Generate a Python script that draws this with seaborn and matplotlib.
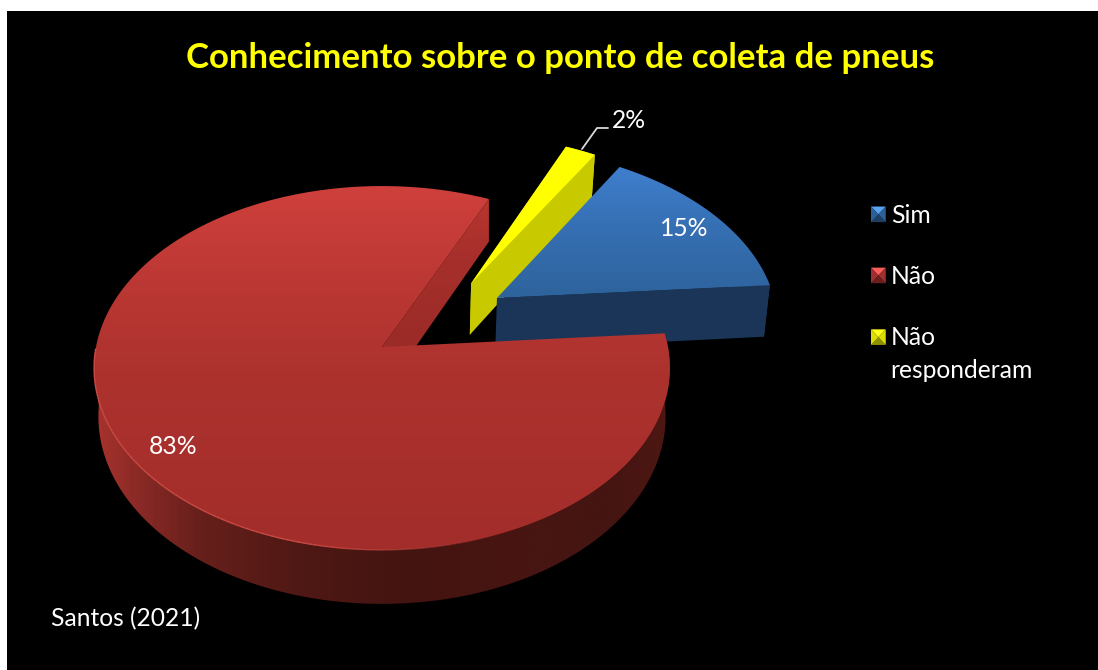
import numpy as np
import seaborn as sns
import matplotlib
matplotlib.use("Agg")
import matplotlib.pyplot as plt
from matplotlib.collections import LineCollection
from matplotlib.legend_handler import HandlerBase
from matplotlib.patches import Polygon, Patch

# ---- data ----
categories = ["Sim", "Não", "Não\nresponderam"]
shares = [15, 83, 2]
title_text = "Conhecimento sobre o ponto de coleta de pneus"
source_text = "Santos (2021)"

# ---- style ----
sns.set_theme(style="white")
plt.rcParams["font.family"] = ["Lato", "DejaVu Sans"]

START_DEG = 58.4            # clockwise from here: Sim, Não, Não responderam
CX, CY, RX, RY, K = 382, 347, 286, 179.5, 0.1153
OFFSETS = [(0.415, 0.282), (0, 0), (0.325, 0.37)]
DEPTHS = [54, 48, 54]
WALL = ["#1A3558", "#A62F2B", "#C9C900"]
LEGEND_MAIN = ["#2F659F", "#A83230", "#E8E800"]

fig = plt.figure(figsize=(10.98, 6.70), dpi=100, facecolor="white")
ax = fig.add_axes([7 / 1098, 0, 1091 / 1098, 659 / 670], facecolor="black")
ax.set_xticks([]); ax.set_yticks([])
for s in ax.spines.values():
    s.set_visible(False)


def project(x, y):
    w = 1 + K * y
    return CX + RX * x / w, CY - RY * y / w


def lower(x, y, depth, shrink=0.985):
    sx, sy = project(x, y)
    return CX + (sx - CX) * shrink, sy + depth * (1 - 0.125 * y)


def gradient(poly, stops, z, vertical=True):
    xs, ys = poly[:, 0], poly[:, 1]
    pos, cols = zip(*stops)
    lut = np.array(sns.blend_palette(list(cols), 256))
    lo, hi = (ys.min(), ys.max()) if vertical else (xs.min(), xs.max())
    coords = np.linspace(lo, hi, 400)
    f = np.clip(np.interp(coords, pos, np.linspace(0, 1, len(pos))), 0, 1)
    row = lut[(f * 255).astype(int)]
    img = row[:, None, :] if vertical else row[None, :, :]
    extent = (xs.min(), xs.max(), ys.max(), ys.min())
    im = ax.imshow(img, extent=extent, aspect="auto", zorder=z, interpolation="bilinear", origin="upper")
    patch = Polygon(poly, closed=True, transform=ax.transData, facecolor="none", edgecolor="none")
    ax.add_patch(patch)
    im.set_clip_path(patch)


# angular extents from the data (clockwise)
sweeps = np.array(shares) / sum(shares) * 360
ends = START_DEG - np.cumsum(sweeps)
starts = ends + sweeps
slices = {}
for i in range(3):
    t = np.radians(np.linspace(starts[i], ends[i], 300))
    ox, oy = OFFSETS[i]
    slices[i] = (np.cos(t) + ox, np.sin(t) + oy, ox, oy)


def top_poly(i):
    xr, yr, ox, oy = slices[i]
    px, py = project(xr, yr)
    ax_, ay_ = project(ox, oy)
    return np.column_stack([np.r_[ax_, px], np.r_[ay_, py]])


def rim_strip(i, ymax=9.0):
    xr, yr, _, _ = slices[i]
    keep = (yr < ymax) & ~((xr < 0) & (yr > -0.05))
    tx, ty = project(xr[keep], yr[keep])
    bx, by = lower(xr[keep], yr[keep], DEPTHS[i])
    return np.column_stack([np.r_[tx, bx[::-1]], np.r_[ty, by[::-1]]])


def radial_wall(i, which, shrink=0.985):
    xr, yr, ox, oy = slices[i]
    a = project(ox, oy)
    b = project(xr[which], yr[which])
    c = lower(xr[which], yr[which], DEPTHS[i], shrink)
    d = lower(ox, oy, DEPTHS[i], shrink)
    return np.array([a, b, c, d])


# red inner wall (far cut, facing right)
wall_red = radial_wall(1, -1, shrink=1.0)
gradient(wall_red, [(197, "#B8352F"), (260, "#A62F2B"), (350, "#9A2B27")], 1)

# yellow slice: wall, rim, top
ax.fill(*rim_strip(2).T, color="#D8D800", zorder=2, lw=0)
ax.fill(*radial_wall(2, -1).T, color=WALL[2], zorder=2.1, lw=0)
ax.fill(*radial_wall(2, 0).T, color=WALL[2], zorder=2.1, lw=0)
ax.fill(*top_poly(2).T, color="#FFFF00", zorder=2.2, lw=0)

# blue slice: front wall, rim, top
ax.fill(*rim_strip(0).T, color="#1B3759", zorder=3, lw=0)
ax.fill(*radial_wall(0, -1).T, color=WALL[0], zorder=3.1, lw=0)
gradient(top_poly(0), [(165, "#3F7FCE"), (225, "#3670B4"), (298, "#2E639C")], 3.2)

# red slice: front rim with horizontal shading, then top
gradient(rim_strip(1, ymax=0.12),
         [(92, "#AB332E"), (135, "#8B2A26"), (200, "#661F1B"), (300, "#4F1814"),
          (400, "#441411"), (520, "#481512"), (610, "#451512"), (668, "#4E1713")],
         4, vertical=False)
gradient(top_poly(1), [(186, "#CF403C"), (280, "#BC3834"), (370, "#AD322E"), (550, "#A22D2A")], 4.2)

# soft highlight on the lower-left front rim, fading out towards the front
xr, yr, _, _ = slices[1]
rx_, ry_ = project(xr, yr)
front = (yr < 0.0) & (xr < 0.4)
order = np.argsort(xr[front])
hx, hy = rx_[front][order], ry_[front][order]
segs = np.stack([np.column_stack([hx[:-1], hy[:-1]]), np.column_stack([hx[1:], hy[1:]])], axis=1)
fade = np.clip((hx[:-1].max() - hx[:-1]) / 200, 0, 1)
rgba = np.tile(matplotlib.colors.to_rgba("#CC4A43"), (len(segs), 1))
rgba[:, 3] = fade
ax.add_collection(LineCollection(segs, colors=rgba, linewidths=1.0, zorder=4.3))

ax.set_xlim(7, 1098)
ax.set_ylim(670, 11)

# ---- text ----
ax.text(560, 58, title_text, color="#FFFF00", fontsize=25, fontweight="bold",
        ha="center", va="center", zorder=6)
for pos, value in zip([(684, 229), (173, 446), (629, 121)], shares):
    ax.text(pos[0], pos[1], f"{value}%", color="white", fontsize=17.7, ha="center", va="center", zorder=6)
ax.text(51, 619, source_text, color="white", fontsize=17.7, ha="left", va="center", zorder=6)
ax.plot([582, 597, 608], [149, 128, 128], color="#D9D9D9", lw=1.3, zorder=6)


# ---- legend with bevelled swatches ----
class Bevel(HandlerBase):
    def create_artists(self, legend, orig, xd, yd, width, height, fontsize, trans):
        c = np.array(matplotlib.colors.to_rgb(orig.get_facecolor()))
        lift = 12.7 if "\n" in orig.get_label() else 0.0
        x0, y0, x1, y1 = -xd, -yd + lift, -xd + width, -yd + height + lift
        mx, my = (x0 + x1) / 2, (y0 + y1) / 2
        tri = [([x0, x1, mx], [y1, y1, my], np.clip(c * 1.35 + 0.1, 0, 1)),
               ([x0, x1, mx], [y0, y0, my], c * 0.62),
               ([x0, x0, mx], [y0, y1, my], c * 0.95),
               ([x1, x1, mx], [y0, y1, my], c * 0.95)]
        return [Polygon(np.column_stack(t[:2]), closed=True, facecolor=t[2], edgecolor="none",
                        transform=trans) for t in tri]


handles = [Patch(facecolor=c, label=l) for c, l in zip(LEGEND_MAIN, categories)]
leg = ax.legend(handles=handles, loc="upper left", bbox_to_anchor=(871, 204), bbox_transform=ax.transData,
                frameon=False, fontsize=17.7, labelcolor="white", handlelength=0.6, handleheight=0.6,
                handletextpad=0.2, labelspacing=1.55, borderpad=0, borderaxespad=0,
                handler_map={Patch: Bevel()})
for t in leg.get_texts():
    t.set_linespacing(1.5)
leg.set_zorder(6)

fig.savefig("out.png", dpi=100, facecolor="white")
